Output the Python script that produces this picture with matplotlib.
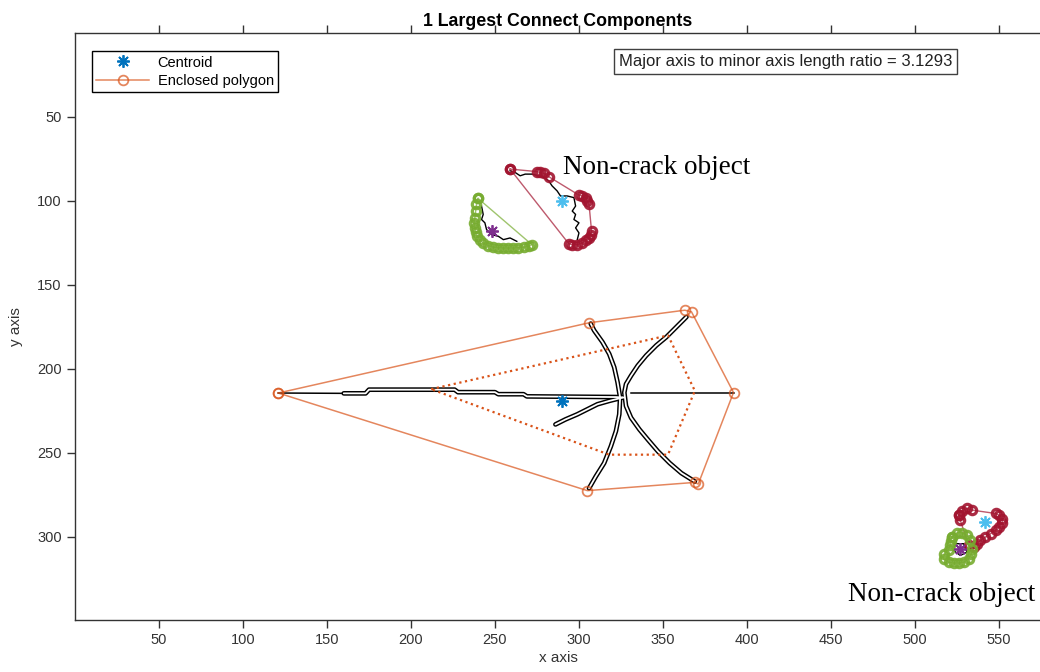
import matplotlib
matplotlib.use("Agg")
import matplotlib.pyplot as plt

plt.rcParams['font.family'] = ['Liberation Sans', 'DejaVu Sans']

# colores tipo MATLAB
c_blue = '#0072BD'
c_orange = '#D95319'
c_purple = '#7E2F8E'
c_green = '#77AC30'
c_cyan = '#4DBEEE'
c_red = '#A2142F'

# ticks
x_ticks = [50, 100, 150, 200, 250, 300, 350, 400, 450, 500, 550]
y_ticks = [50, 100, 150, 200, 250, 300]

# poligono envolvente de la grieta (cerrado)
hull_x = [121, 306, 363, 367, 392, 371, 369, 305, 121]
hull_y = [214.3, 172.5, 165, 166, 214, 268.5, 267.5, 272.4, 214.3]

# poligono interior punteado
inner_x = [212, 353, 369, 353, 318, 212]
inner_y = [212, 180, 213, 251, 251, 212]

# trazos de la grieta
main_x = [160, 173, 175, 226, 228, 250, 252, 267, 269, 322, 327]
main_y = [214.5, 214.5, 212.3, 212.3, 213.8, 213.8, 215, 215, 216.3, 216.7, 217]
left_x = [121, 160]
left_y = [214.3, 214.5]
right_x = [331, 392]
right_y = [214, 214]
arc_a_x = [307, 309, 314, 318, 321, 323, 324.5, 324, 322, 319, 315, 310, 306]
arc_a_y = [173, 177, 184, 191, 199, 208, 217, 227, 237, 246, 256, 264, 271]
arc_b_x = [364, 361, 357, 352, 346, 340, 335, 331, 328, 327, 328, 331, 336, 341, 347, 354, 361, 369]
arc_b_y = [169, 172, 176, 181, 186, 192, 198, 204, 209, 214, 222, 229, 236, 242, 249, 256, 262, 267]
branch_x = [326, 318, 311, 305, 299, 292, 286]
branch_y = [217, 219, 221, 224, 227, 230, 233]

# objetos no-grieta superiores
red_up_x = [259, 275, 277, 279, 282, 300, 302, 304, 305, 306, 307.5, 307, 306, 304, 302, 299, 296, 294, 259]
red_up_y = [81, 82.5, 83, 83.5, 85.5, 96.5, 97, 98, 100, 102, 118, 120, 122, 123.5, 125, 126, 126, 125.5, 81]
green_up_x = [240, 272, 270, 267, 264, 261, 258, 255, 252, 249, 246, 243, 241, 239.5, 238.5, 238, 237.5, 238, 238.5, 239, 240]
green_up_y = [98.5, 126, 127, 127.5, 127.8, 128, 128, 128, 127.8, 127.5, 126.5, 125, 123, 121, 118.5, 116, 113, 110, 106, 102, 98.5]
red_up_trace_x = [259, 262, 265, 268, 272, 276, 279, 282, 284, 287, 289, 293, 297, 298, 296, 298, 297, 300, 298, 300, 299]
red_up_trace_y = [82, 83, 85, 84, 84, 85, 86, 88, 91, 94, 97, 97, 98, 103, 106, 108, 111, 113, 116, 119, 123]
green_up_trace_x = [242, 243, 242, 244, 245, 248, 252, 255, 259, 263]
green_up_trace_y = [103, 108, 111, 113, 117, 120, 121, 123, 122, 124]

# objetos no-grieta inferiores
red_lo_x = [526, 528, 531, 534, 548, 550, 552, 552, 550, 548, 545, 542, 539, 537, 535, 532, 527, 526]
red_lo_y = [287, 284.5, 283, 284, 286, 287, 289, 291.5, 294, 296, 298, 300, 302, 304, 306, 305, 290, 287]
green_lo_x = [522, 525, 528, 531, 533, 534, 533.5, 532, 529, 526, 523, 520, 517, 517.5, 520, 521, 521.5, 522]
green_lo_y = [300, 297.5, 297.5, 299, 302, 307, 310, 313, 315, 315.5, 315.5, 315, 313, 310, 307.5, 305, 302.5, 300]
lo_trace_x = [524, 529, 531, 527, 523, 524]
lo_trace_y = [304, 304, 309, 311, 308, 304]

# centroides
cent_main = (290, 219)
cent_red_up = (290, 100)
cent_green_up = (248, 118)
cent_red_lo = (542, 291)
cent_green_lo = (527, 307)

ratio = 3.1293

fig = plt.figure(figsize=(10.4, 6.72), dpi=100)
ax = fig.add_axes([0.0721, 0.0774, 0.9288, 0.8735])

# grieta: contorno doble (negro grueso + blanco fino)
for px, py in [(main_x, main_y), (arc_a_x, arc_a_y), (arc_b_x, arc_b_y), (branch_x, branch_y)]:
    ax.plot(px, py, color='black', lw=3.4, solid_capstyle='round', zorder=2)
    ax.plot(px, py, color='white', lw=1.3, solid_capstyle='round', zorder=2.1)
ax.plot(left_x, left_y, color='black', lw=1.1, zorder=2)
ax.plot(right_x, right_y, color='black', lw=1.1, zorder=2)

ax.plot(inner_x, inner_y, color=c_orange, lw=1.6, ls=(0, (1, 1.6)), zorder=3)
hull_line, = ax.plot(hull_x, hull_y, color=c_orange, lw=1.1, alpha=0.7, marker='o',
                     ms=7, mfc='none', mew=1.3, zorder=3, label='Enclosed polygon')

# trazos de los objetos no-grieta
ax.plot(red_up_trace_x, red_up_trace_y, color='black', lw=1.0, zorder=2)
ax.plot(green_up_trace_x, green_up_trace_y, color='black', lw=1.0, zorder=2)
ax.plot(lo_trace_x, lo_trace_y, color='black', lw=1.0, zorder=2)

for px, py, col in [(red_up_x, red_up_y, c_red), (green_up_x, green_up_y, c_green),
                    (red_lo_x, red_lo_y, c_red), (green_lo_x, green_lo_y, c_green)]:
    ax.plot(px, py, color=col, lw=1.0, alpha=0.7, zorder=3)
    ax.plot(px, py, ls='none', marker='o', ms=6, mfc='none', mec=col, mew=2.3,
            alpha=0.9, zorder=3)

star = (8, 2, 0)
cent_line, = ax.plot(*cent_main, ls='none', marker=star, ms=9, mew=1.3, color=c_blue,
                     zorder=4, label='Centroid')
ax.plot(*cent_red_up, ls='none', marker=star, ms=9, mew=1.3, color=c_cyan, zorder=4)
ax.plot(*cent_green_up, ls='none', marker=star, ms=9, mew=1.3, color=c_purple, zorder=4)
ax.plot(*cent_red_lo, ls='none', marker=star, ms=9, mew=1.3, color=c_cyan, zorder=4)
ax.plot(*cent_green_lo, ls='none', marker=star, ms=9, mew=1.3, color=c_purple, zorder=4)

ax.set_xlim(0, 575)
ax.set_ylim(349.4, 0)
ax.set_xticks(x_ticks)
ax.set_yticks(y_ticks)
ax.tick_params(direction='out', length=6, width=1, top=True, right=True,
               labelsize=10.5, color='#333333', labelcolor='#333333')
for s in ax.spines.values():
    s.set_color('#333333')
    s.set_linewidth(1)

ax.set_title('1 Largest Connect Components', fontsize=12.8, fontweight='bold', pad=5)
ax.set_xlabel('x axis', fontsize=11, labelpad=3, color='#333333')
ax.set_ylabel('y axis', fontsize=11, labelpad=10, color='#333333')

leg = ax.legend(handles=[cent_line, hull_line], loc='upper left',
                bbox_to_anchor=(0.0176, 0.969), borderaxespad=0, fontsize=10.5,
                fancybox=False, framealpha=1, edgecolor='black', handlelength=3.6,
                labelspacing=0.3, borderpad=0.3, handletextpad=0.6)
leg.get_frame().set_linewidth(1)

ax.text(423, 17, 'Major axis to minor axis length ratio = %.4f' % ratio,
        ha='center', va='center', fontsize=12, color='#222222',
        bbox=dict(boxstyle='square,pad=0.3', fc='white', ec='#404040', lw=1))

ax.text(290.5, 83.9, 'Non-crack object', family='Liberation Serif', fontsize=19.5,
        va='baseline', ha='left')
ax.text(460.3, 337.9, 'Non-crack object', family='Liberation Serif', fontsize=19.5,
        va='baseline', ha='left')

fig.savefig('out.png', dpi=100)
